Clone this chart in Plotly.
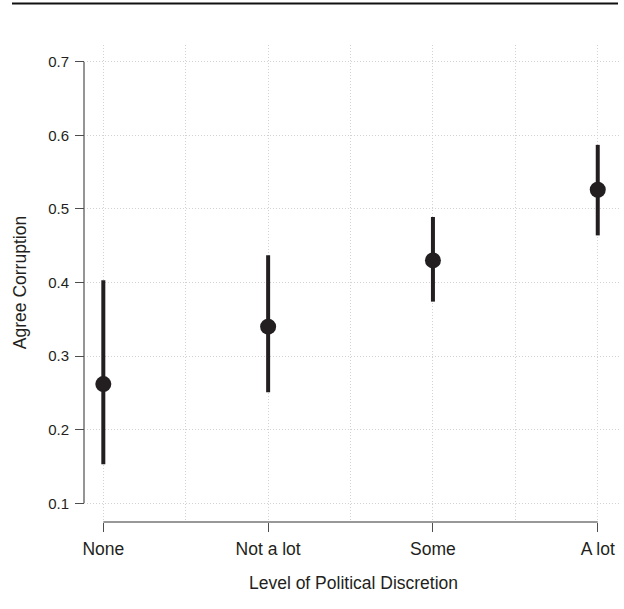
import plotly.graph_objects as go

categories = ["None", "Not a lot", "Some", "A lot"]
estimate = [0.262, 0.340, 0.430, 0.526]
lower = [0.153, 0.251, 0.374, 0.464]
upper = [0.403, 0.437, 0.489, 0.587]
y_ticks = [0.1, 0.2, 0.3, 0.4, 0.5, 0.6, 0.7]
y_tick_labels = ["0.1", "0.2", "0.3", "0.4", "0.5", "0.6", "0.7"]

x_pos = list(range(len(categories)))
minor_x = [i + 0.5 for i in x_pos[:-1]]

W, H = 624, 609
ML, MR, MT, MB = 84, 4, 45, 87

ink = "#231f20"
axis_col = "#4d4d4d"
grid_col = "#d2d2d2"
fam = "Liberation Sans, Arial, Helvetica, sans-serif"
font = dict(family=fam, size=17.5, color="#231f20")

fig = go.Figure()
fig.add_trace(go.Scatter(
    x=x_pos, y=estimate, mode="markers",
    marker=dict(size=16, color=ink, line=dict(width=0)),
    error_y=dict(type="data", symmetric=False,
                 array=[u - e for u, e in zip(upper, estimate)],
                 arrayminus=[e - l for e, l in zip(estimate, lower)],
                 color=ink, thickness=4, width=0),
    showlegend=False, hoverinfo="skip",
))

pw = W - ML - MR
ph = H - MT - MB

fig.update_layout(
    width=W, height=H,
    margin=dict(l=ML, r=MR, t=MT, b=MB, autoexpand=False),
    paper_bgcolor="white", plot_bgcolor="white",
    font=font,
    xaxis=dict(
        domain=[3 / pw, 1],
        range=[-0.099, 3.135],
        tickvals=x_pos, ticktext=categories,
        ticks="outside", ticklen=9, tickcolor=axis_col, tickwidth=1,
        tickfont=dict(family=fam, size=17.5, color="#231f20"),
        showline=False, zeroline=False,
        showgrid=True, gridcolor=grid_col, griddash="1px,2px", gridwidth=1,
        minor=dict(tickvals=minor_x, showgrid=True, gridcolor=grid_col,
                   griddash="1px,2px", gridwidth=1, ticks=""),
        anchor="free", position=0, automargin=False,
        title=dict(text="Level of Political Discretion", standoff=18,
                   font=dict(family=fam, size=17.5, color="#231f20")),
        ticklabelstandoff=2,
    ),
    yaxis=dict(
        domain=[2 / ph, 1],
        range=[0.0773, 0.7227],
        tickvals=y_ticks, ticktext=y_tick_labels,
        ticks="outside", ticklen=9, tickcolor=axis_col, tickwidth=1,
        tickfont=dict(family=fam, size=15, color="#231f20"),
        showline=False, zeroline=False,
        showgrid=True, gridcolor=grid_col, griddash="1px,2px", gridwidth=1,
        anchor="free", position=0, automargin=False,
        title=dict(text="Agree Corruption", standoff=16,
                   font=dict(family=fam, size=17.5, color="#231f20")),
        ticklabelstandoff=3,
    ),
    shapes=[
        dict(type="line", xref="paper", yref="y", x0=0, x1=0,
             y0=min(y_ticks), y1=max(y_ticks), line=dict(color=axis_col, width=1.2)),
        dict(type="line", xref="x", yref="paper", x0=min(x_pos), x1=max(x_pos),
             y0=0, y1=0, line=dict(color="#333333", width=1.2)),
        dict(type="line", xref="paper", yref="paper",
             x0=(12 - ML) / pw, x1=(618 - ML) / pw,
             y0=(H - MB - 3.5) / ph, y1=(H - MB - 3.5) / ph,
             line=dict(color="#111111", width=2)),
    ],
)

fig.write_html("out.html", config={"displayModeBar": False},
               post_script="document.body.style.margin='0';document.body.style.overflow='hidden';")
